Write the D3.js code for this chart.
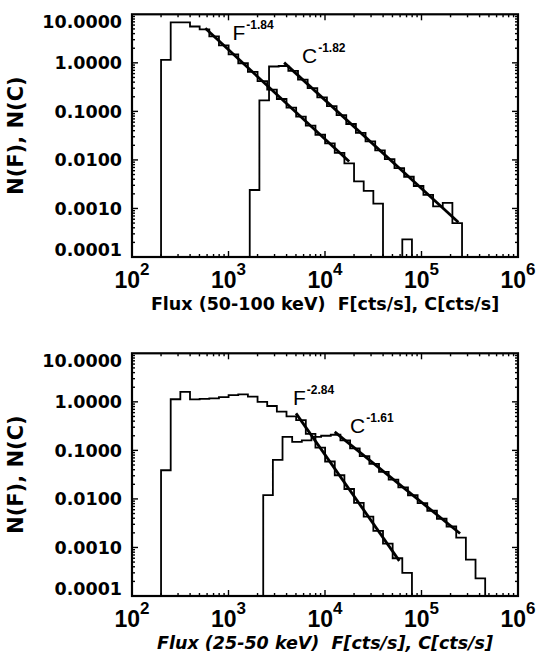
<!DOCTYPE html>
<html>
<head>
<meta charset="utf-8">
<script src="https://cdn.jsdelivr.net/npm/d3@7"></script>
<style>
  body { margin: 0; background: #fff; }
  text { fill: #000; }
</style>
</head>
<body>
<svg id="chart" width="539" height="655"></svg>
<script>
// histogram bins are 0.1 decade wide (0 = empty bin)
const binStep = 0.1;

// upper panel: 50-100 keV
const topFStart = 200;
const topF = [1.15, 6.85, 6.85, 5.6, 4.9, 3.5, 2.3, 1.5, 0.98, 0.65, 0.42, 0.28, 0.18,
  0.12, 0.078, 0.051, 0.033, 0.022, 0.014, 0.0085, 0.0036, 0.0023, 0.00126, 0, 0, 0.00023];
const topCStart = 1660;
const topC = [0.0024, 0.168, 0.84, 0.86, 0.68, 0.45, 0.30, 0.195, 0.128, 0.084, 0.055,
  0.036, 0.024, 0.0157, 0.0104, 0.0068, 0.0045, 0.0029, 0.0019, 0.0011, 0.0013, 0.0005];
const topFitFX = [575, 17800], topFitFY = [5.15, 0.0093];
const topFitCX = [3770, 241000], topFitCY = [1.01, 0.00052];

// lower panel: 25-50 keV
const botFStart = 200;
const botF = [0.039, 1.13, 1.6, 1.12, 1.15, 1.18, 1.25, 1.38, 1.42, 1.28, 1.0, 0.82, 0.63,
  0.5, 0.42, 0.218, 0.1135, 0.059, 0.0307, 0.016, 0.0083, 0.0043, 0.0022, 0.0012, 0.0006, 0.0003];
const botCStart = 2290;
const botC = [0.012, 0.064, 0.19, 0.15, 0.16, 0.19, 0.2, 0.21, 0.16, 0.11, 0.076, 0.0525,
  0.0362, 0.025, 0.0173, 0.0119, 0.0082, 0.0057, 0.0039, 0.0027, 0.0016, 0.00056, 0.00023];
const botFitFX = [5010, 58900], botFitFY = [0.58, 0.00053];
const botFitCX = [12600, 251000], botFitCY = [0.24, 0.00194];

const yTicks = [10, 1, 0.1, 0.01, 0.001, 0.0001];
const yTickLabels = ["10.0000", "1.0000", "0.1000", "0.0100", "0.0010", "0.0001"];
const xTicks = [1e2, 1e3, 1e4, 1e5, 1e6];
const xTickExp = ["2", "3", "4", "5", "6"];

const svg = d3.select("#chart");

function panel(top, bottom, opts) {
  let x = d3.scaleLog().domain([100, 1e6]).range([132, 518]);
  let y = d3.scaleLog().domain([1e-4, 10]).range([bottom, top]);
  let g = svg.append("g");
  let floor = 1e-4;

  // step outline of a histogram
  let line = d3.line().x(d => x(d[0])).y(d => y(d[1]));
  let hist = function(start, vals) {
    let pts = [[start, floor]];
    let x1 = start;
    vals.forEach(function(v, i) {
      let x0 = start * Math.pow(10, binStep * i);
      x1 = start * Math.pow(10, binStep * (i + 1));
      let yv = v > 0 ? v : floor;
      pts.push([x0, yv], [x1, yv]);
    });
    pts.push([x1, floor]);
    g.append("path").attr("d", line(pts))
      .attr("fill", "none").attr("stroke", "#000").attr("stroke-width", 1.8)
      .attr("stroke-linejoin", "miter");
  };
  hist(opts.fStart, opts.f);
  hist(opts.cStart, opts.c);

  // power law fits
  [[opts.fitFX, opts.fitFY], [opts.fitCX, opts.fitCY]].forEach(function(fit) {
    g.append("path").attr("d", line(d3.zip(fit[0], fit[1])))
      .attr("fill", "none").attr("stroke", "#000").attr("stroke-width", 2.8);
  });

  // frame + ticks
  let x0 = x.range()[0], x1 = x.range()[1];
  g.append("rect").attr("x", x0).attr("y", top).attr("width", x1 - x0).attr("height", bottom - top)
    .attr("fill", "none").attr("stroke", "#000").attr("stroke-width", 2.2);

  let tk = g.append("g").attr("stroke", "#000").attr("stroke-width", 1.4);
  for (let d = 2; d < 6; d++) {
    for (let k = 1; k < 10; k++) {
      let xv = x(k * Math.pow(10, d)), len = k === 1 ? 6 : 3;
      tk.append("line").attr("x1", xv).attr("x2", xv).attr("y1", bottom).attr("y2", bottom - len);
      tk.append("line").attr("x1", xv).attr("x2", xv).attr("y1", top).attr("y2", top + len);
    }
  }
  for (let d = -4; d < 1; d++) {
    for (let k = 1; k < 10; k++) {
      let yv = y(k * Math.pow(10, d)), len = k === 1 ? 6 : 3;
      tk.append("line").attr("x1", x0).attr("x2", x0 + len).attr("y1", yv).attr("y2", yv);
      tk.append("line").attr("x1", x1).attr("x2", x1 - len).attr("y1", yv).attr("y2", yv);
    }
  }

  // y tick labels (end labels pulled inside the frame)
  g.selectAll(".ylab").data(yTicks).enter().append("text")
    .attr("class", "ylab")
    .attr("x", 122)
    .attr("y", function(d) {
      let c = y(d);
      if (d === 10) c += 7;
      if (d === 0.0001) c -= 7;
      return c + 6.4;
    })
    .attr("text-anchor", "end")
    .style("font-family", "DejaVu Sans").style("font-weight", "bold").style("font-size", "17.5px")
    .text((d, i) => yTickLabels[i]);

  // x tick labels 10^n
  let xl = g.selectAll(".xlab").data(xTicks).enter().append("text")
    .attr("class", "xlab")
    .attr("x", d => x(d))
    .attr("y", bottom + 31)
    .attr("text-anchor", "middle")
    .style("font-family", "Liberation Sans").style("font-weight", "bold");
  xl.append("tspan").style("font-size", "23px").text("10");
  xl.append("tspan").attr("dy", -13).style("font-size", "17px").text((d, i) => xTickExp[i]);

  // axis titles
  g.append("text")
    .attr("x", 325).attr("y", bottom + 52.5)
    .attr("text-anchor", "middle")
    .style("font-family", "DejaVu Sans").style("font-weight", "bold").style("font-size", "17.5px")
    .style("font-style", opts.italic ? "italic" : "normal")
    .style("white-space", "pre")
    .text(opts.title);

  g.append("text")
    .attr("transform", "translate(23," + ((top + bottom) / 2) + ") rotate(-90)")
    .attr("text-anchor", "middle")
    .style("font-family", "DejaVu Sans").style("font-weight", "bold").style("font-size", "21px")
    .text("N(F), N(C)");

  // power law annotations
  opts.notes.forEach(function(n) {
    let t = g.append("text").attr("x", x(n.x)).attr("y", y(n.y))
      .style("font-family", "Liberation Sans");
    t.append("tspan").style("font-size", "21px").text(n.base);
    t.append("tspan").attr("dx", 1).attr("dy", -11)
      .style("font-size", "12px").style("font-weight", "bold").text(n.exp);
  });
}

panel(14.3, 257, {
  fStart: topFStart, f: topF, cStart: topCStart, c: topC,
  fitFX: topFitFX, fitFY: topFitFY, fitCX: topFitCX, fitCY: topFitCY,
  title: "Flux (50-100 keV)  F[cts/s], C[cts/s]", italic: false,
  notes: [{base: "F", exp: "-1.84", x: 1100, y: 2.9},
          {base: "C", exp: "-1.82", x: 5780, y: 1.0}]
});

panel(353.3, 596, {
  fStart: botFStart, f: botF, cStart: botCStart, c: botC,
  fitFX: botFitFX, fitFY: botFitFY, fitCX: botFitCX, fitCY: botFitCY,
  title: "Flux (25-50 keV)  F[cts/s], C[cts/s]", italic: true,
  notes: [{base: "F", exp: "-2.84", x: 4660, y: 0.87},
          {base: "C", exp: "-1.61", x: 18200, y: 0.227}]
});
</script>
</body>
</html>
